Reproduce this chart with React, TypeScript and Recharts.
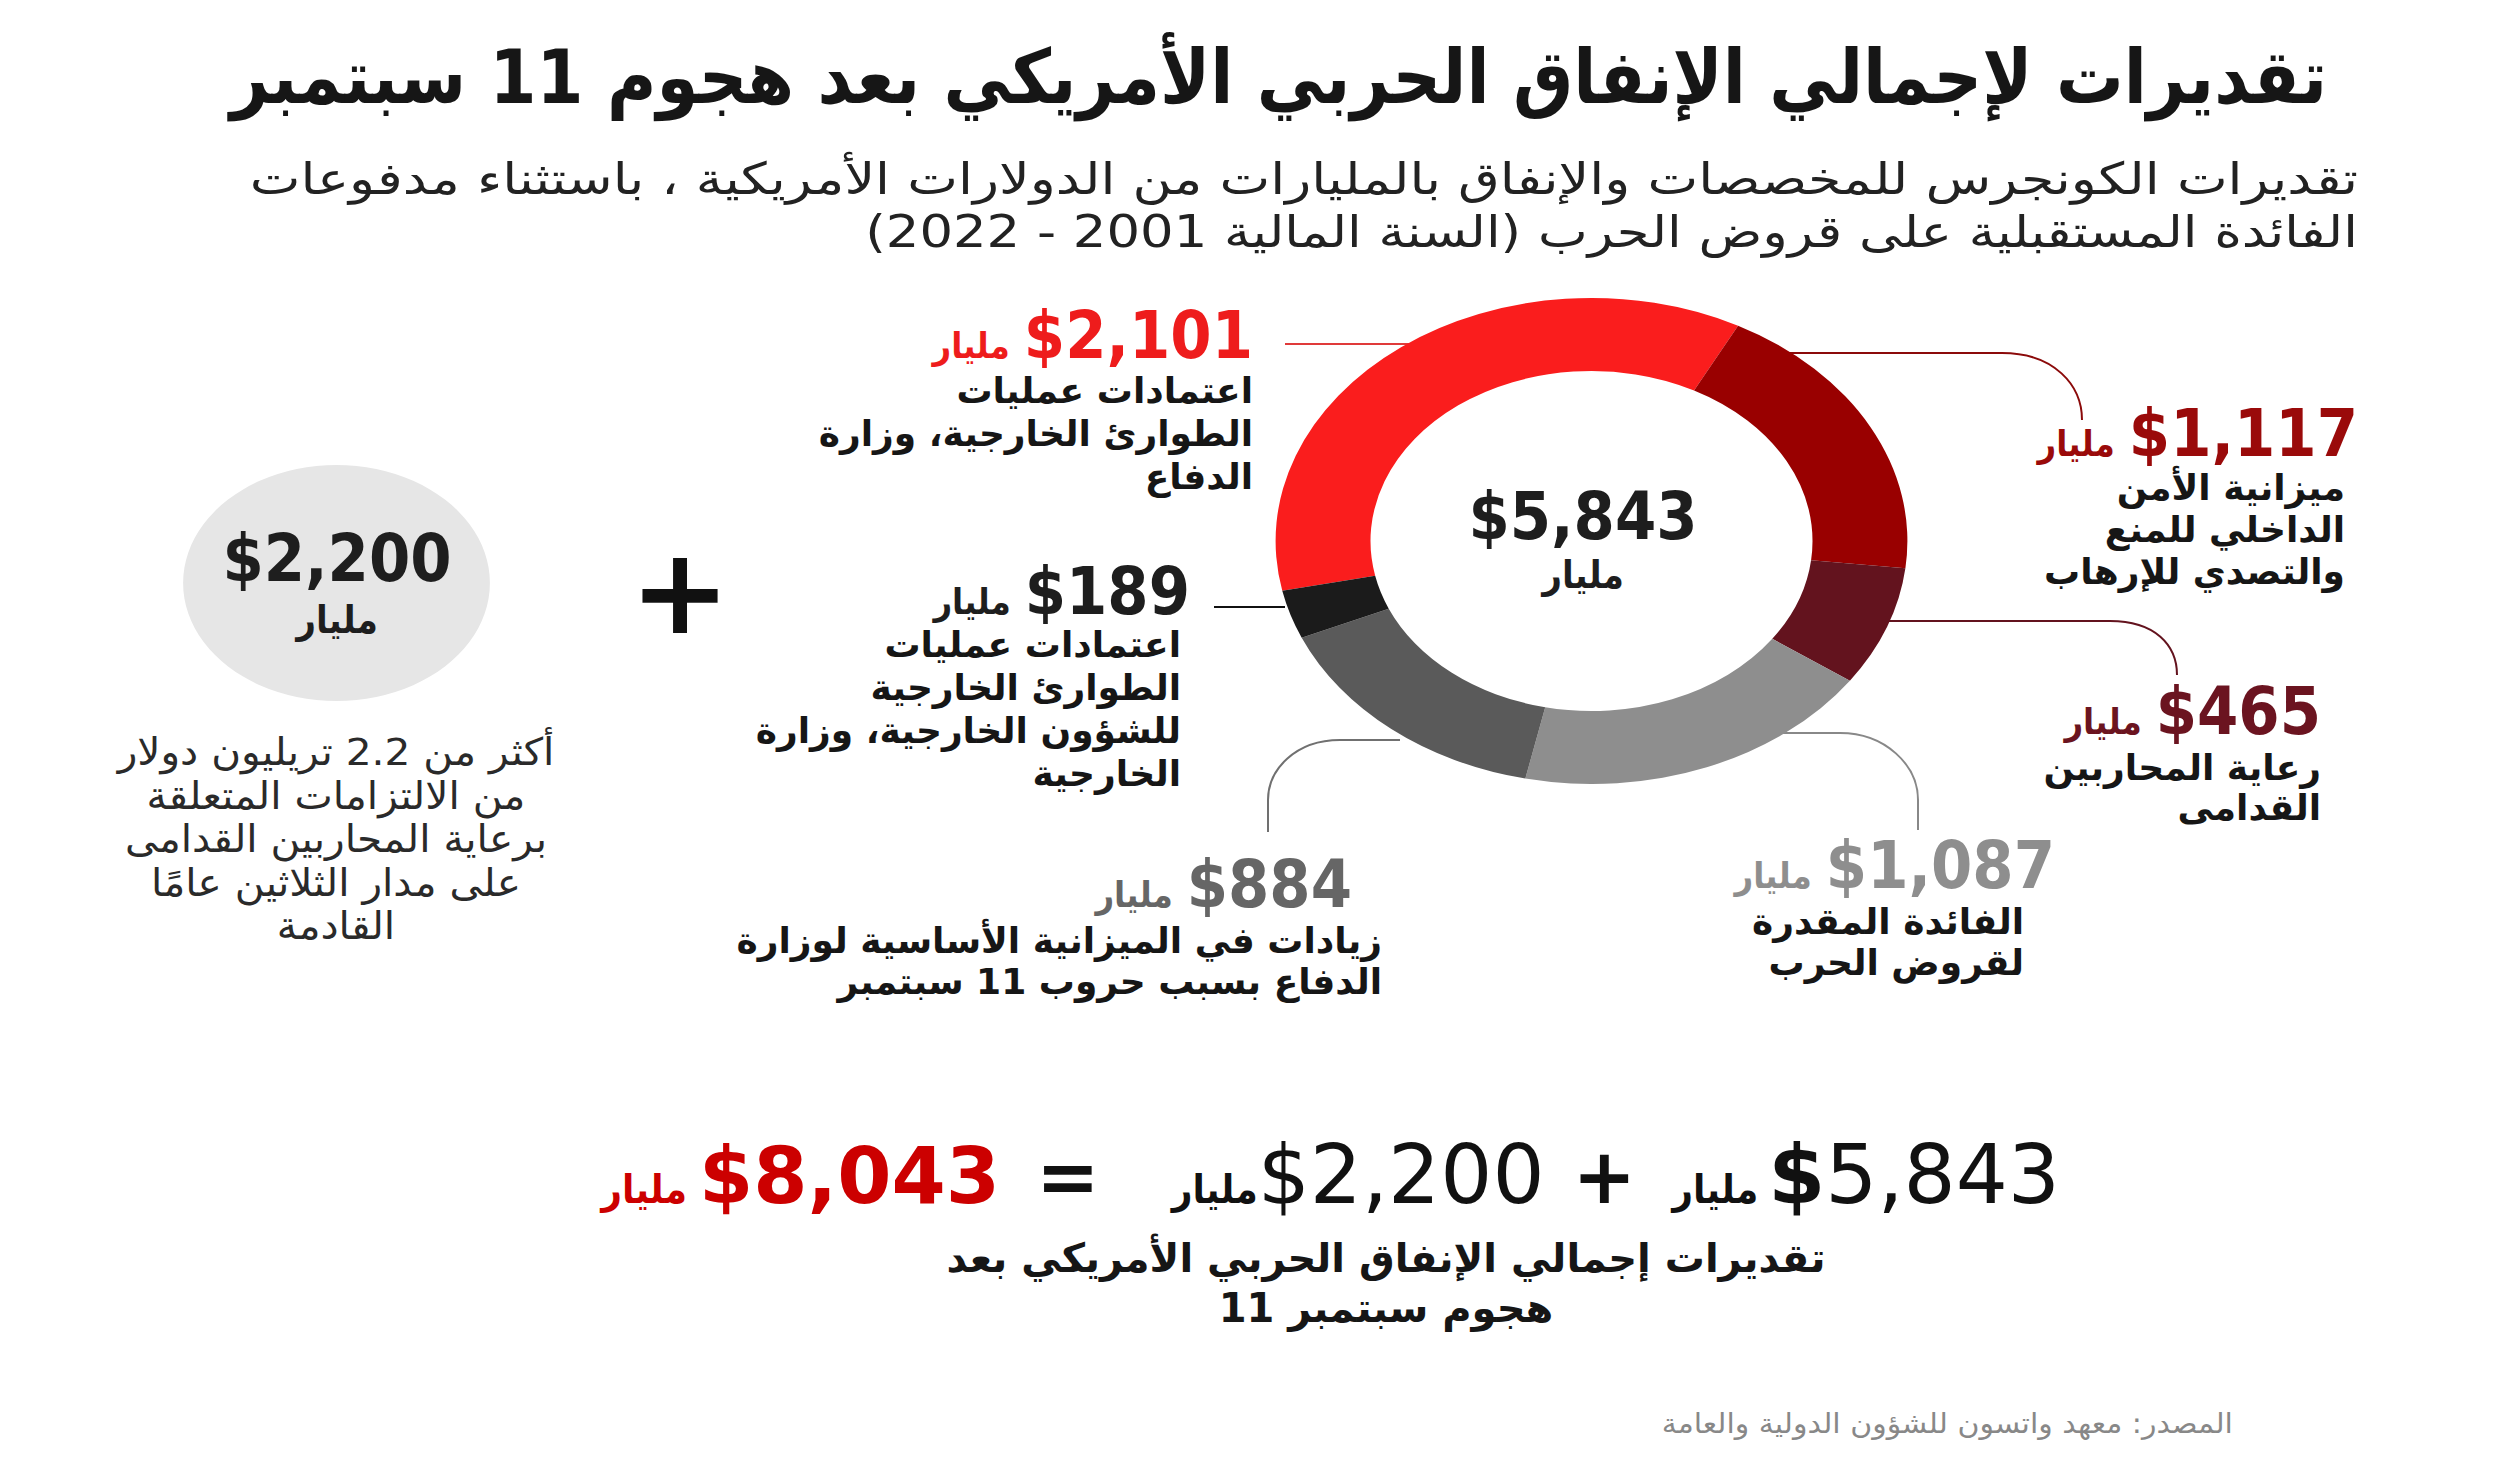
import React from 'react';
import { PieChart, Pie, Cell } from 'recharts';

// Congressional estimates, billions of USD (FY2001 - FY2022)
const categories = [
  'اعتمادات عمليات الطوارئ الخارجية، وزارة الدفاع',
  'ميزانية الأمن الداخلي للمنع والتصدي للإرهاب',
  'رعاية المحاربين القدامى',
  'الفائدة المقدرة لقروض الحرب',
  'زيادات في الميزانية الأساسية لوزارة الدفاع بسبب حروب 11 سبتمبر',
  'اعتمادات عمليات الطوارئ الخارجية للشؤون الخارجية، وزارة الخارجية',
];
const values = [2101, 1117, 465, 1087, 884, 189];
const futureCare = [2200];

const labelLines = [
  ['اعتمادات عمليات', 'الطوارئ الخارجية، وزارة', 'الدفاع'],
  ['ميزانية الأمن', 'الداخلي للمنع', 'والتصدي للإرهاب'],
  ['رعاية المحاربين', 'القدامى'],
  ['الفائدة المقدرة', 'لقروض الحرب'],
  ['زيادات في الميزانية الأساسية لوزارة', 'الدفاع بسبب حروب 11 سبتمبر'],
  ['اعتمادات عمليات', 'الطوارئ الخارجية', 'للشؤون الخارجية، وزارة', 'الخارجية'],
];
const futureCareLines = [
  'أكثر من 2.2 تريليون دولار',
  'من الالتزامات المتعلقة',
  'برعاية المحاربين القدامى',
  'على مدار الثلاثين عامًا',
  'القادمة',
];

const UNIT = 'مليار';
const TITLE = 'تقديرات لإجمالي الإنفاق الحربي الأمريكي بعد هجوم 11 سبتمبر';
const SUBTITLE = [
  'تقديرات الكونجرس للمخصصات والإنفاق بالمليارات من الدولارات الأمريكية ، باستثناء مدفوعات',
  'الفائدة المستقبلية على قروض الحرب (السنة المالية 2001 - 2022)',
];
const CAPTION = ['تقديرات إجمالي الإنفاق الحربي الأمريكي بعد', 'هجوم سبتمبر 11'];
const SOURCE = 'المصدر: معهد واتسون للشؤون الدولية والعامة';

const SLICE_COLORS = ['#fa1d1d', '#990000', '#63131e', '#8e8e8e', '#5a5a5a', '#1b1b1b'];
const VALUE_COLORS = ['#ee1c1c', '#9a0a0a', '#6b1420', '#8e8e8e', '#666666', '#1e1e1e'];

// where each slice's label block sits (right edge, centre of value line, first text line)
const LABEL_POS = [
  { right: 1253, vy: 336, descRight: 1253, dy: 391, gap: 43 },
  { right: 2358, vy: 434, descRight: 2345, dy: 488, gap: 42 },
  { right: 2321, vy: 712, descRight: 2321, dy: 768, gap: 40 },
  { right: 2055, vy: 866, descRight: 2024, dy: 922, gap: 41 },
  { right: 1352, vy: 885, descRight: 1382, dy: 941, gap: 41 },
  { right: 1190, vy: 592, descRight: 1181, dy: 645, gap: 43 },
];

const LEADERS = [
  { d: 'M1285 344 H1410', c: '#e03a3a' },
  { d: 'M1780 353 H2002 C2054 353 2082 385 2082 420', c: '#8b0a0a' },
  { d: 'M1870 621 H2110 C2155 621 2177 645 2177 675', c: '#63131e' },
  { d: 'M1770 733 H1840 C1885 733 1918 765 1918 800 V830', c: '#888888' },
  { d: 'M1400 740 H1340 C1295 740 1268 770 1268 800 V832', c: '#707070' },
  { d: 'M1214 607 H1285', c: '#111111' },
];

const W = 2500;
const H = 1472;
const FONT = '"DejaVu Sans Condensed", "DejaVu Sans", sans-serif';
const WIDE = '"DejaVu Sans", sans-serif';
const fmt = (v: number) => v.toLocaleString('en-US');

const total = values.reduce((a, b) => a + b, 0);
const grand = total + futureCare[0];

const pieData = categories.map((name, i) => ({ name, value: values[i] }));
const careData = [{ name: 'رعاية المحاربين القدامى مستقبلاً', value: futureCare[0] }];

function RText({ x, y, size, color = '#111', weight = 700, children, family, sx = 1 }: any) {
  return (
    <div
      style={{
        position: 'absolute',
        right: W - x,
        top: y,
        transform: `translateY(-50%) scaleX(${sx})`,
        transformOrigin: '100% 50%',
        fontSize: size,
        fontWeight: weight,
        fontFamily: family,
        color,
        direction: 'rtl',
        whiteSpace: 'nowrap',
        lineHeight: 1,
      }}
    >
      {children}
    </div>
  );
}

function CText({ x, y, size, color = '#111', weight = 700, children, family, sx = 1, lh = 1 }: any) {
  return (
    <div
      style={{
        position: 'absolute',
        left: x,
        top: y,
        transform: `translate(-50%, -50%) scaleX(${sx})`,
        fontSize: size,
        fontWeight: weight,
        color,
        direction: 'rtl',
        whiteSpace: 'nowrap',
        lineHeight: lh,
        textAlign: 'center',
        fontFamily: family,
      }}
    >
      {children}
    </div>
  );
}

function ValueRow({ x, y, value, color, size = 66, unitSize = 36 }: any) {
  return (
    <div
      style={{
        position: 'absolute',
        right: W - x,
        top: y,
        transform: 'translateY(-50%)',
        display: 'flex',
        alignItems: 'baseline',
        gap: 14,
        direction: 'ltr',
        color,
        fontWeight: 700,
        whiteSpace: 'nowrap',
        lineHeight: 0.85,
      }}
    >
      <span style={{ fontSize: unitSize }}>{UNIT}</span>
      <span style={{ fontSize: size }}>${fmt(value)}</span>
    </div>
  );
}

export default function App() {
  return (
    <div
      style={{
        position: 'relative',
        width: W,
        height: H,
        background: '#ffffff',
        overflow: 'hidden',
        fontFamily: FONT,
      }}
    >
      <style>{'body{margin:0}'}</style>

      <RText x={2327} y={77} size={75} color="#161616">{TITLE}</RText>
      <RText x={2358} y={179} size={44} weight={400} color="#222" family={WIDE} sx={1.225}>{SUBTITLE[0]}</RText>
      <RText x={2358} y={232} size={44} weight={400} color="#222" family={WIDE} sx={1.2}>{SUBTITLE[1]}</RText>

      <svg width={W} height={H} style={{ position: 'absolute', left: 0, top: 0 }}>
        {LEADERS.map((l, i) => (
          <path key={i} d={l.d} fill="none" stroke={l.c} strokeWidth={2} />
        ))}
      </svg>

      {/* main donut, stretched horizontally like the source graphic */}
      <div
        style={{
          position: 'absolute',
          left: 1585 - 330,
          top: 536 - 250,
          width: 660,
          height: 500,
          transform: 'scaleX(1.3)',
          transformOrigin: '50% 50%',
        }}
      >
        <PieChart width={660} height={500}>
          <Pie
            data={pieData}
            dataKey="value"
            nameKey="name"
            cx={330}
            cy={250}
            innerRadius={170}
            outerRadius={243}
            startAngle={191.8}
            endAngle={-168.2}
            stroke="none"
            isAnimationActive={false}
          >
            {pieData.map((_, i) => (
              <Cell key={i} fill={SLICE_COLORS[i]} />
            ))}
          </Pie>
        </PieChart>
      </div>

      {/* future veterans care bubble */}
      <div
        style={{
          position: 'absolute',
          left: 330 - 130,
          top: 578 - 130,
          width: 260,
          height: 260,
          transform: 'scaleX(1.3)',
          transformOrigin: '50% 50%',
        }}
      >
        <PieChart width={260} height={260}>
          <Pie
            data={careData}
            dataKey="value"
            cx={130}
            cy={130}
            innerRadius={0}
            outerRadius={118}
            stroke="none"
            fill="#e6e6e6"
            isAnimationActive={false}
          />
        </PieChart>
      </div>

      <CText x={1583} y={517} size={66} color="#1e1e1e" lh={0.8}>${fmt(total)}</CText>
      <CText x={1583} y={575} size={38} color="#1e1e1e" lh={0.9}>{UNIT}</CText>

      <CText x={337} y={559} size={66} color="#1e1e1e" lh={0.8}>${fmt(futureCare[0])}</CText>
      <CText x={337} y={620} size={38} color="#1e1e1e" lh={0.9}>{UNIT}</CText>

      {futureCareLines.map((t, i) => (
        <CText key={i} x={336} y={752 + i * 43.5} size={38} weight={400} color="#2a2a2a" family={WIDE} sx={1.07}>{t}</CText>
      ))}

      <CText x={680} y={592} size={120} color="#111" family={WIDE}>+</CText>

      {values.map((v, i) => {
        const p = LABEL_POS[i];
        return (
          <React.Fragment key={i}>
            <ValueRow x={p.right} y={p.vy} value={v} color={VALUE_COLORS[i]} />
            {labelLines[i].map((t, j) => (
              <RText key={j} x={p.descRight} y={p.dy + j * p.gap} size={36} color="#161616" family={WIDE}>{t}</RText>
            ))}
          </React.Fragment>
        );
      })}

      {/* equation */}
      <div
        style={{
          position: 'absolute',
          left: 560,
          top: 1175,
          width: 1500,
          transform: 'translateY(-50%)',
          display: 'flex',
          alignItems: 'baseline',
          justifyContent: 'flex-end',
          direction: 'ltr',
          fontFamily: WIDE,
          whiteSpace: 'nowrap',
          lineHeight: 1,
          color: '#111',
        }}
      >
        <span style={{ fontSize: 40, fontWeight: 700, color: '#cc0000', fontFamily: FONT }}>{UNIT}</span>
        <span style={{ fontSize: 78, fontWeight: 700, color: '#cc0000', marginLeft: 12 }}>${fmt(grand)}</span>
        <span style={{ fontSize: 76, fontWeight: 700, marginLeft: 36, marginRight: 72 }}>=</span>
        <span style={{ fontSize: 40, fontWeight: 700, fontFamily: FONT }}>{UNIT}</span>
        <span style={{ fontSize: 82, fontWeight: 400 }}>${fmt(futureCare[0])}</span>
        <span style={{ fontSize: 76, fontWeight: 700, marginLeft: 28, marginRight: 36 }}>+</span>
        <span style={{ fontSize: 40, fontWeight: 700, fontFamily: FONT }}>{UNIT}</span>
        <span style={{ fontSize: 82, fontWeight: 400, marginLeft: 10 }}>
          <b>$</b>{fmt(total)}
        </span>
      </div>

      <CText x={1386} y={1258} size={40} color="#161616" family={WIDE}>{CAPTION[0]}</CText>
      <CText x={1386} y={1308} size={40} color="#161616" family={WIDE}>{CAPTION[1]}</CText>

      <RText x={2233} y={1424} size={28} weight={400} color="#888" family={WIDE} sx={1.07}>{SOURCE}</RText>
    </div>
  );
}
